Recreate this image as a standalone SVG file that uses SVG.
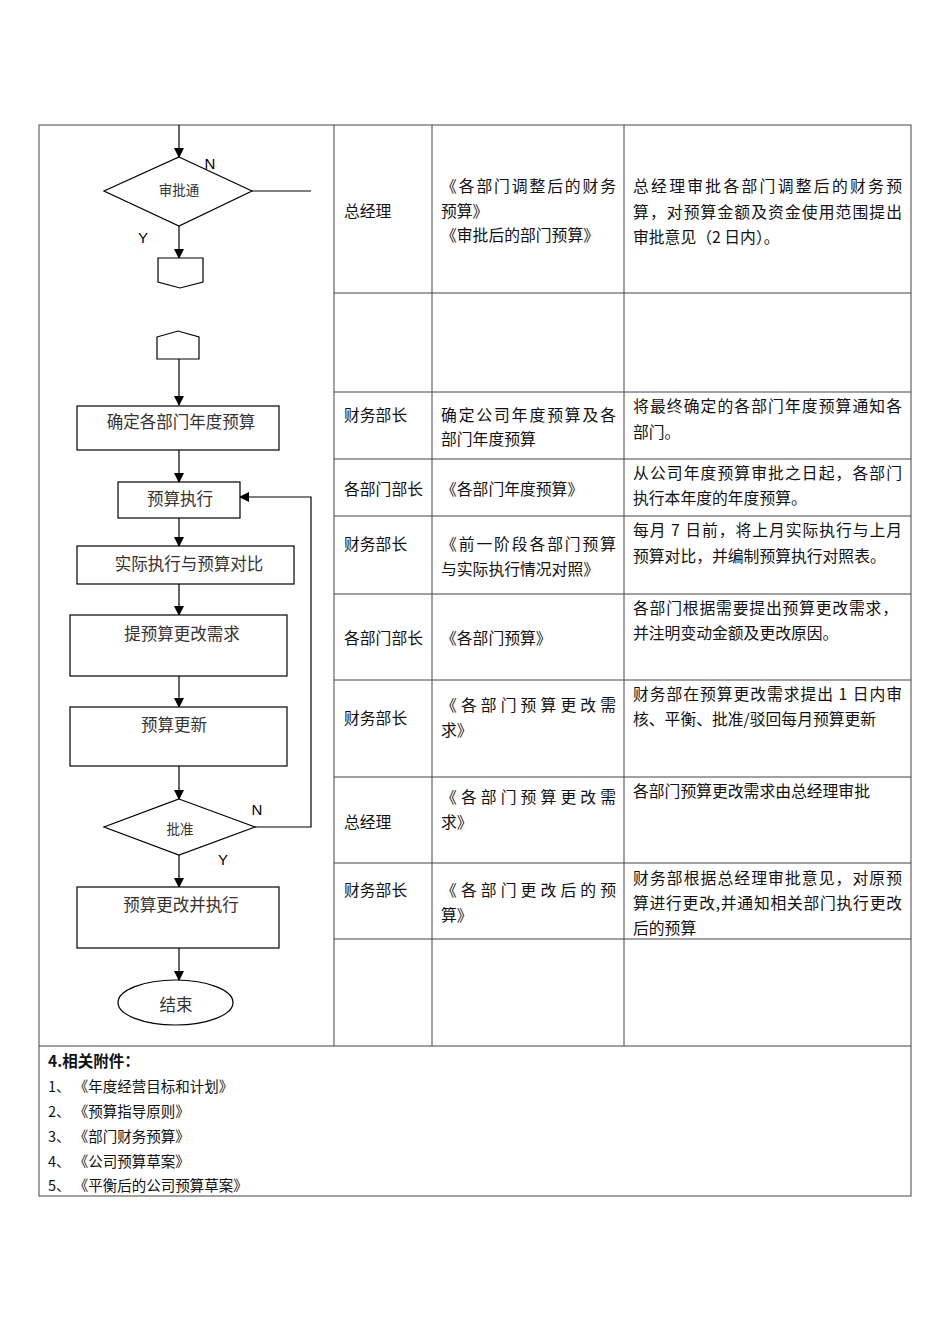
<svg xmlns="http://www.w3.org/2000/svg" width="950" height="1344" viewBox="0 0 950 1344">
<style>
.grid{stroke:#444;stroke-width:1;fill:none}
.shape{stroke:#000;stroke-width:1.2;fill:#fff}
.ln{stroke:#000;stroke-width:1.2;fill:none}
.ft{font-family:"Noto Sans CJK SC","Liberation Serif",serif;font-size:16.5px;fill:#333;text-anchor:middle;dominant-baseline:central}
.tt{font-family:"Noto Sans CJK SC","Liberation Sans",sans-serif;font-size:15.8px;fill:#111;dominant-baseline:central}
.lab{font-family:"Liberation Sans",Arial,sans-serif;font-size:15px;fill:#000;text-anchor:middle;dominant-baseline:central}
.att{font-family:"Noto Sans CJK SC","Liberation Sans",sans-serif;font-size:14.5px;fill:#111;dominant-baseline:central}
</style>
<defs>
<marker id="arr" markerWidth="10" markerHeight="10" refX="9" refY="5" orient="auto" markerUnits="userSpaceOnUse">
<path d="M0,0 L10,5 L0,10 Z" fill="#000"/>
</marker>
<clipPath id="dclip"><rect x="100" y="150" width="160" height="55"/></clipPath>
</defs>
<rect width="950" height="1344" fill="#fff"/>

<g id="table">
<rect class="grid" x="39" y="125" width="872" height="1071"/>
<line class="grid" x1="334" y1="125" x2="334" y2="1046"/>
<line class="grid" x1="432" y1="125" x2="432" y2="1046"/>
<line class="grid" x1="624" y1="125" x2="624" y2="1046"/>
<line class="grid" x1="334" y1="293" x2="911" y2="293"/>
<line class="grid" x1="334" y1="392" x2="911" y2="392"/>
<line class="grid" x1="334" y1="459" x2="911" y2="459"/>
<line class="grid" x1="334" y1="516" x2="911" y2="516"/>
<line class="grid" x1="334" y1="594" x2="911" y2="594"/>
<line class="grid" x1="334" y1="680" x2="911" y2="680"/>
<line class="grid" x1="334" y1="777" x2="911" y2="777"/>
<line class="grid" x1="334" y1="863" x2="911" y2="863"/>
<line class="grid" x1="334" y1="939" x2="911" y2="939"/>
<line class="grid" x1="39" y1="1046" x2="911" y2="1046"/>
</g>

<g id="rows">
<text class="tt" x="344" y="210">总经理</text>
<text class="tt" x="441" y="185" textLength="175" lengthAdjust="spacing">《各部门调整后的财务</text>
<text class="tt" x="441" y="210">预算》</text>
<text class="tt" x="441" y="234">《审批后的部门预算》</text>
<text class="tt" x="633" y="185" textLength="269" lengthAdjust="spacing">总经理审批各部门调整后的财务预</text>
<text class="tt" x="633" y="211" textLength="269" lengthAdjust="spacing">算，对预算金额及资金使用范围提出</text>
<text class="tt" x="633" y="236">审批意见（2 日内）。</text>

<text class="tt" x="344" y="414">财务部长</text>
<text class="tt" x="441" y="414" textLength="175" lengthAdjust="spacing">确定公司年度预算及各</text>
<text class="tt" x="441" y="438">部门年度预算</text>
<text class="tt" x="633" y="405" textLength="269" lengthAdjust="spacing">将最终确定的各部门年度预算通知各</text>
<text class="tt" x="633" y="431">部门。</text>

<text class="tt" x="344" y="488">各部门部长</text>
<text class="tt" x="441" y="488">《各部门年度预算》</text>
<text class="tt" x="633" y="472" textLength="269" lengthAdjust="spacing">从公司年度预算审批之日起，各部门</text>
<text class="tt" x="633" y="497">执行本年度的年度预算。</text>

<text class="tt" x="344" y="543">财务部长</text>
<text class="tt" x="441" y="543" textLength="175" lengthAdjust="spacing">《前一阶段各部门预算</text>
<text class="tt" x="441" y="568">与实际执行情况对照》</text>
<text class="tt" x="633" y="529" textLength="269" lengthAdjust="spacing">每月 7 日前，将上月实际执行与上月</text>
<text class="tt" x="633" y="555">预算对比，并编制预算执行对照表。</text>

<text class="tt" x="344" y="637">各部门部长</text>
<text class="tt" x="441" y="637">《各部门预算》</text>
<text class="tt" x="633" y="607" textLength="265" lengthAdjust="spacing">各部门根据需要提出预算更改需求，</text>
<text class="tt" x="633" y="632">并注明变动金额及更改原因。</text>

<text class="tt" x="344" y="717">财务部长</text>
<text class="tt" x="441" y="704" textLength="175" lengthAdjust="spacing">《各部门预算更改需</text>
<text class="tt" x="441" y="729">求》</text>
<text class="tt" x="633" y="693" textLength="269" lengthAdjust="spacing">财务部在预算更改需求提出 1 日内审</text>
<text class="tt" x="633" y="718">核、平衡、批准/驳回每月预算更新</text>

<text class="tt" x="344" y="821">总经理</text>
<text class="tt" x="441" y="796" textLength="175" lengthAdjust="spacing">《各部门预算更改需</text>
<text class="tt" x="441" y="821">求》</text>
<text class="tt" x="633" y="790">各部门预算更改需求由总经理审批</text>

<text class="tt" x="344" y="889">财务部长</text>
<text class="tt" x="441" y="889" textLength="175" lengthAdjust="spacing">《各部门更改后的预</text>
<text class="tt" x="441" y="914">算》</text>
<text class="tt" x="633" y="877" textLength="269" lengthAdjust="spacing">财务部根据总经理审批意见，对原预</text>
<text class="tt" x="633" y="902" textLength="269" lengthAdjust="spacing">算进行更改,并通知相关部门执行更改</text>
<text class="tt" x="633" y="927">后的预算</text>
</g>

<g id="connectors">
<line class="ln" x1="179" y1="125" x2="179" y2="157" marker-end="url(#arr)"/>
<line class="ln" x1="252" y1="191" x2="311" y2="191"/>
<line class="ln" x1="179" y1="226" x2="179" y2="258" marker-end="url(#arr)"/>
<line class="ln" x1="179" y1="359" x2="179" y2="405" marker-end="url(#arr)"/>
<line class="ln" x1="179" y1="450" x2="179" y2="482" marker-end="url(#arr)"/>
<line class="ln" x1="179" y1="518" x2="179" y2="546" marker-end="url(#arr)"/>
<line class="ln" x1="179" y1="584" x2="179" y2="615" marker-end="url(#arr)"/>
<line class="ln" x1="179" y1="676" x2="179" y2="707" marker-end="url(#arr)"/>
<line class="ln" x1="179" y1="766" x2="179" y2="799" marker-end="url(#arr)"/>
<polyline class="ln" points="255,827 311,827 311,497 240,497" marker-end="url(#arr)"/>
<line class="ln" x1="179" y1="855" x2="179" y2="887" marker-end="url(#arr)"/>
<line class="ln" x1="179" y1="948" x2="179" y2="980" marker-end="url(#arr)"/>
<text class="lab" x="210" y="163">N</text>
<text class="lab" x="143" y="237">Y</text>
<text class="lab" x="257" y="809">N</text>
<text class="lab" x="223" y="859">Y</text>
</g>

<g id="n-approve1">
<polygon class="shape" points="179,157 252,191 179,226 104,191"/>
<g clip-path="url(#dclip)">
<text class="ft" x="179" y="189" style="font-size:13.5px">审批通</text>
<text class="ft" x="179" y="212" style="font-size:13.5px">过</text>
</g>
</g>
<g id="n-offpage-out">
<polygon class="shape" points="158,258 203,258 203,282 180,288 158,282"/>
</g>
<g id="n-offpage-in">
<polygon class="shape" points="157,337 178,331 199,337 199,359 157,359"/>
</g>
<g id="n-confirm">
<rect class="shape" x="77" y="406" width="202" height="44"/>
<text class="ft" x="181" y="421">确定各部门年度预算</text>
</g>
<g id="n-exec">
<rect class="shape" x="118" y="482" width="122" height="36"/>
<text class="ft" x="180" y="498">预算执行</text>
</g>
<g id="n-compare">
<rect class="shape" x="77" y="546" width="217" height="38"/>
<text class="ft" x="189" y="563">实际执行与预算对比</text>
</g>
<g id="n-request">
<rect class="shape" x="70" y="615" width="217" height="61"/>
<text class="ft" x="182" y="633">提预算更改需求</text>
</g>
<g id="n-update">
<rect class="shape" x="70" y="707" width="217" height="59"/>
<text class="ft" x="174" y="724">预算更新</text>
</g>
<g id="n-approve2">
<polygon class="shape" points="179,799 255,827 179,855 104,827"/>
<text class="ft" x="180" y="828" style="font-size:13.5px">批准</text>
</g>
<g id="n-apply">
<rect class="shape" x="77" y="887" width="202" height="61"/>
<text class="ft" x="181" y="904">预算更改并执行</text>
</g>
<g id="n-end">
<ellipse class="shape" cx="175.5" cy="1002.5" rx="57.5" ry="22.5"/>
<text class="ft" x="176" y="1004">结束</text>
</g>

<g id="attachments">
<text class="att" x="48" y="1060" style="font-weight:bold;font-size:15.5px">4.相关附件：</text>
<text class="att" x="48" y="1085">1、 《年度经营目标和计划》</text>
<text class="att" x="48" y="1110">2、 《预算指导原则》</text>
<text class="att" x="48" y="1135">3、 《部门财务预算》</text>
<text class="att" x="48" y="1160">4、 《公司预算草案》</text>
<text class="att" x="48" y="1184">5、 《平衡后的公司预算草案》</text>
</g>
</svg>
